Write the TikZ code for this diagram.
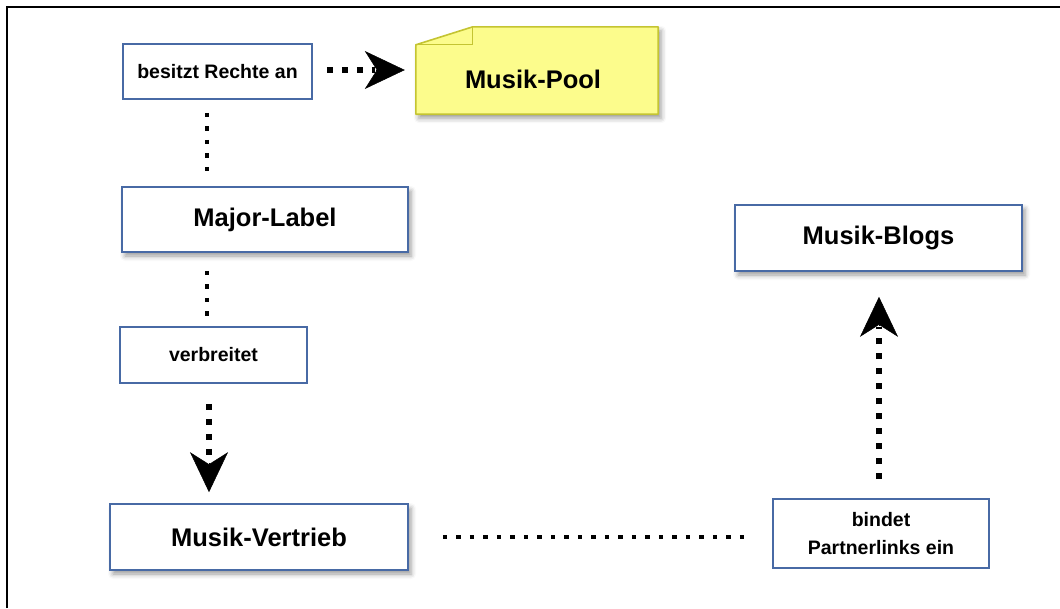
\documentclass[tikz,border=0pt]{standalone}
\usepackage{fontspec}
\setmainfont{Liberation Sans}
\usetikzlibrary{arrows.meta,shadows.blur,calc}
\definecolor{boxblue}{RGB}{72,106,165}
\definecolor{poolfill}{RGB}{252,252,140}
\definecolor{poolline}{RGB}{196,196,50}
\tikzset{
  bigbox/.style={draw=boxblue, line width=1.6pt, fill=white, inner sep=0pt,
    font=\bfseries\fontsize{25.5}{30}\selectfont,
    blur shadow={shadow xshift=3pt, shadow yshift=-4pt, shadow blur radius=5pt, shadow opacity=40}},
  smallbox/.style={draw=boxblue, line width=1.6pt, fill=white, inner sep=0pt, align=center,
    font=\bfseries\fontsize{19.5}{28}\selectfont},
  dotline/.style={line width=4.5pt, dash pattern=on 4.5pt off 9pt},
  arrline/.style={line width=6pt, dash pattern=on 6pt off 9pt},
  arrhead/.style={line width=0.5pt, solid, black, -{Stealth[length=40pt,width=38pt,inset=12pt]}},
  notetext/.style={font=\bfseries\fontsize{25.5}{30}\selectfont, inner sep=0pt}
}
\begin{document}
\begin{tikzpicture}[x=1pt,y=-1pt]
\useasboundingbox (0,0) rectangle (1060,608);
% frame
\draw[line width=2.5pt] (7,608) -- (7,7) -- (1060,7);

% nodes
\node[smallbox, minimum width=189, minimum height=55] (besitzt) at (217.5,71.5) {besitzt Rechte an};
\node[bigbox, minimum width=286, minimum height=65] (major) at (265,219.5) {Major-Label};
\node[smallbox, minimum width=187, minimum height=56] (verbreitet) at (213.5,355) {verbreitet};
\node[bigbox, minimum width=298, minimum height=66] (vertrieb) at (259,537) {Musik-Vertrieb};
\node[bigbox, minimum width=287, minimum height=66] (blogs) at (878.5,238) {Musik-Blogs};
\node[smallbox, minimum width=216, minimum height=69] (bindet) at (881,533.5) {bindet\\Partnerlinks ein};

% note Musik-Pool
\node[minimum width=242, minimum height=87, inner sep=0pt] (pool) at (537,70.5) {};
\path[draw=poolline, fill=poolfill, line width=1.6pt, line join=round,
  blur shadow={shadow xshift=3pt, shadow yshift=-4pt, shadow blur radius=5pt, shadow opacity=40}]
  ($(pool.north west)+(0,18)$) -- ($(pool.north west)+(57,0)$) -- (pool.north east)
  -- (pool.south east) -- (pool.south west) -- cycle;
\draw[poolline, line width=1.2pt] ($(pool.north west)+(0,18)$) -- ($(pool.north west)+(57,18)$) -- ($(pool.north west)+(57,0)$);
\node[notetext] (pooltext) at (533,79) {Musik-Pool};

% connector end points
\coordinate (xa) at (207,0);
\coordinate (xb) at (209,0);
\coordinate (xc) at (879,0);
\coordinate (t1) at ($(pool.west |- besitzt.east)+(-11,-1.5)$);
\coordinate (t2) at ($(vertrieb.north -| xb)+(0,-11)$);
\coordinate (t3) at ($(blogs.south -| xc)+(0,25)$);

% connectors
\draw[arrline] ($(besitzt.east)+(14,-1.5)$) -- ($(t1)+(-30,0)$);
\draw[arrhead] ($(t1)+(-29,0)$) -- (t1);
\draw[dotline] ($(besitzt.south -| xa)+(0,13)$) -- ($(major.north -| xa)+(0,-12)$);
\draw[dotline] ($(major.south -| xa)+(0,18)$) -- ($(verbreitet.north -| xa)+(0,-4)$);
\draw[arrline] ($(verbreitet.south -| xb)+(0,20)$) -- ($(t2)+(0,-30)$);
\draw[arrhead] ($(t2)+(0,-29)$) -- (t2);
\draw[dotline] ($(vertrieb.east)+(34,0)$) -- ($(bindet.west |- vertrieb.east)+(-21,0)$);
\draw[arrline] ($(bindet.north -| xc)+(0,-19)$) -- ($(t3)+(0,30)$);
\draw[arrhead] ($(t3)+(0,29)$) -- (t3);
\end{tikzpicture}
\end{document}
